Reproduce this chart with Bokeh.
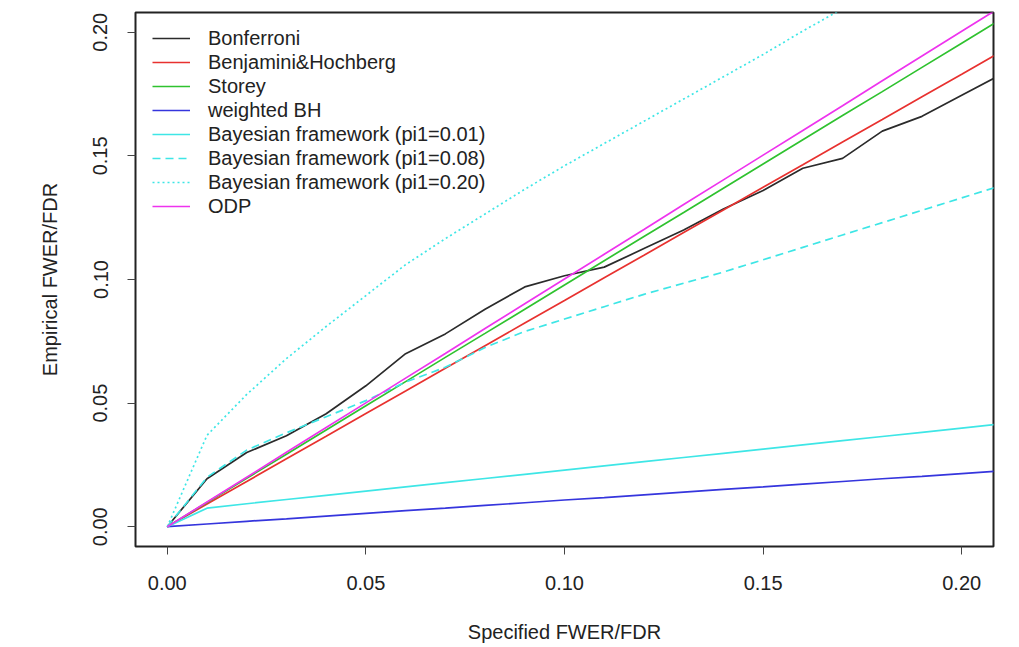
from bokeh.plotting import figure
from bokeh.models import Range1d, FixedTicker, Legend, LegendItem, CustomJSTickFormatter
from bokeh.embed import file_html
from bokeh.resources import INLINE

# --- data ---
alpha = [0.00, 0.01, 0.02, 0.03, 0.04, 0.05, 0.06, 0.07, 0.08, 0.09, 0.10,
         0.11, 0.12, 0.13, 0.14, 0.15, 0.16, 0.17, 0.18, 0.19, 0.20, 0.21]

bonferroni = [0.0, 0.0194, 0.0300, 0.0368, 0.0457, 0.0570, 0.0700, 0.0780, 0.0880, 0.0970, 0.1015,
              0.1050, 0.1125, 0.1200, 0.1285, 0.1360, 0.1450, 0.1490, 0.1600, 0.1660, 0.1745, 0.1830]
bh = [0.0, 0.0092, 0.0183, 0.0275, 0.0366, 0.0458, 0.0549, 0.0641, 0.0732, 0.0824, 0.0915,
      0.1007, 0.1098, 0.1190, 0.1281, 0.1373, 0.1464, 0.1556, 0.1647, 0.1739, 0.1830, 0.1922]
storey = [0.0, 0.0098, 0.0196, 0.0293, 0.0391, 0.0489, 0.0587, 0.0685, 0.0782, 0.0880, 0.0978,
          0.1076, 0.1174, 0.1271, 0.1369, 0.1467, 0.1565, 0.1663, 0.1760, 0.1858, 0.1956, 0.2054]
weighted_bh = [0.0, 0.0011, 0.0022, 0.0032, 0.0043, 0.0054, 0.0065, 0.0075, 0.0086, 0.0097, 0.0108,
               0.0118, 0.0129, 0.0140, 0.0151, 0.0161, 0.0172, 0.0183, 0.0194, 0.0204, 0.0215, 0.0226]
bayes_001 = [0.0, 0.0075, 0.0093, 0.0110, 0.0127, 0.0144, 0.0161, 0.0178, 0.0195, 0.0212, 0.0229,
             0.0246, 0.0263, 0.0280, 0.0297, 0.0314, 0.0331, 0.0348, 0.0365, 0.0382, 0.0399, 0.0416]
bayes_008 = [0.0, 0.0200, 0.0310, 0.0380, 0.0445, 0.0510, 0.0585, 0.0645, 0.0725, 0.0790, 0.0840,
             0.0890, 0.0940, 0.0985, 0.1030, 0.1080, 0.1130, 0.1180, 0.1230, 0.1280, 0.1330, 0.1380]
bayes_020 = [0.0, 0.0370, 0.0535, 0.0680, 0.0810, 0.0935, 0.1060, 0.1165, 0.1265, 0.1365, 0.1460,
             0.1550, 0.1640, 0.1730, 0.1820, 0.1910, 0.2005, 0.2095, 0.2185, 0.2275, 0.2365, 0.2455]
odp = [0.0, 0.0100, 0.0200, 0.0301, 0.0401, 0.0501, 0.0601, 0.0701, 0.0802, 0.0902, 0.1002,
       0.1102, 0.1202, 0.1303, 0.1403, 0.1503, 0.1603, 0.1703, 0.1804, 0.1904, 0.2004, 0.2104]

ticks = [0.0, 0.05, 0.10, 0.15, 0.20]

series = [
    ("Bonferroni", bonferroni, "#2b2b2b", "solid"),
    ("Benjamini&Hochberg", bh, "#e8312f", "solid"),
    ("Storey", storey, "#2fc22f", "solid"),
    ("weighted BH", weighted_bh, "#3535dd", "solid"),
    ("Bayesian framework (pi1=0.01)", bayes_001, "#3ee6e6", "solid"),
    ("Bayesian framework (pi1=0.08)", bayes_008, "#3ee6e6", "8 5"),
    ("Bayesian framework (pi1=0.20)", bayes_020, "#3ee6e6", "2 3"),
    ("ODP", odp, "#ee33ee", "solid"),
]

FONT = "Liberation Sans"

p = figure(width=1019, height=647, output_backend="svg", toolbar_location=None,
           x_range=Range1d(-0.008, 0.208), y_range=Range1d(-0.008, 0.208),
           min_border_left=135, min_border_right=26, min_border_top=12, min_border_bottom=101,
           x_axis_label="Specified FWER/FDR", y_axis_label="Empirical FWER/FDR")
p.grid.visible = False
p.background_fill_color = "white"
p.border_fill_color = "white"
p.outline_line_color = "#222222"
p.outline_line_width = 2

fmt = CustomJSTickFormatter(code="return tick.toFixed(2);")
for ax in (p.xaxis[0], p.yaxis[0]):
    ax.ticker = FixedTicker(ticks=ticks)
    ax.formatter = fmt
    ax.axis_line_color = None
    ax.major_tick_in = 0
    ax.major_tick_out = 8
    ax.major_tick_line_color = "#444444"
    ax.major_tick_line_width = 1
    ax.minor_tick_line_color = None
    ax.major_label_text_font = FONT
    ax.major_label_text_font_size = "20px"
    ax.major_label_text_color = "#222222"
    ax.axis_label_text_font = FONT
    ax.axis_label_text_font_size = "20px"
    ax.axis_label_text_font_style = "normal"
    ax.axis_label_text_color = "#222222"

p.xaxis[0].major_label_standoff = 21
p.xaxis[0].axis_label_standoff = 28
p.yaxis[0].major_label_orientation = "vertical"
p.yaxis[0].major_label_standoff = 20
p.yaxis[0].axis_label_standoff = 30

items = []
for name, ys, color, dash in series:
    r = p.line(alpha, ys, line_color=color, line_width=1.7, line_dash=dash)
    items.append(LegendItem(label=name, renderers=[r]))

legend = Legend(items=items, location=(17, 328), border_line_color=None,
                background_fill_alpha=0, padding=0, margin=0, spacing=0,
                glyph_width=38, glyph_height=24, label_height=24, label_standoff=18,
                label_text_font=FONT, label_text_font_size="20px", label_text_color="#222222")
p.add_layout(legend, "center")

open("out.html", "w").write(file_html(p, INLINE))
